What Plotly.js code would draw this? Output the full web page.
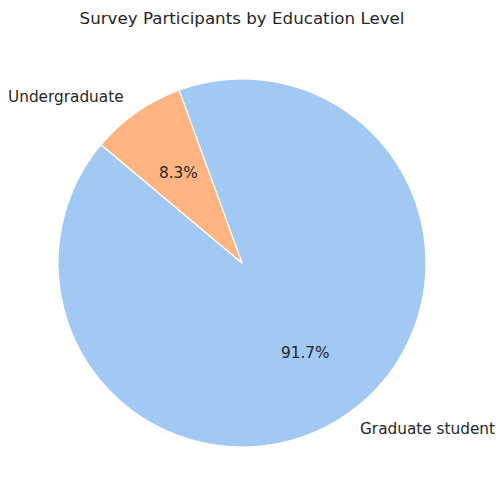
<!DOCTYPE html>
<html>
<head>
<meta charset="utf-8">
<script src="https://cdn.plot.ly/plotly-3.0.1.min.js"></script>
<style>html,body{margin:0;padding:0;background:#fff;}#chart{width:504px;height:504px;}</style>
</head>
<body>
<div id="chart"></div>
<script>
// Data
const labels = ["Graduate student", "Undergraduate"];
const values = [11, 1];
const colors = ["#a1c9f4", "#ffb482"];
const titleText = "Survey Participants by Education Level";

// Geometry (pixels)
const W = 504, H = 504;
const cx = 242, cy = 263, R = 184;
const startAngle = 140; // matplotlib-style, degrees CCW from east
const textColor = "#262626";
const fontFam = "DejaVu Sans, sans-serif";
const fs = 15.3;

const total = values.reduce((a, b) => a + b, 0);
const annotations = [];
let theta = startAngle;
values.forEach((v, i) => {
  const span = v / total * 360;
  const mid = (theta + span / 2) * Math.PI / 180;
  theta += span;
  const lx = cx + 1.1 * R * Math.cos(mid);
  const ly = cy - 1.1 * R * Math.sin(mid);
  annotations.push({
    x: lx / W, y: 1 - ly / H, xref: "paper", yref: "paper",
    text: labels[i], showarrow: false,
    xanchor: Math.cos(mid) < 0 ? "right" : "left", yanchor: "middle",
    font: {family: fontFam, size: fs, color: textColor}
  });
  const px = cx + 0.6 * R * Math.cos(mid);
  const py = cy - 0.6 * R * Math.sin(mid);
  annotations.push({
    x: px / W, y: 1 - py / H, xref: "paper", yref: "paper",
    text: (v / total * 100).toFixed(1) + "%", showarrow: false,
    xanchor: "center", yanchor: "middle",
    font: {family: fontFam, size: fs, color: textColor}
  });
});

// Plotly (counterclockwise): first slice lies clockwise of the rotation line
const firstEnd = (startAngle + values[0] / total * 360) % 360;
const rot = 90 - firstEnd;

const trace = {
  type: "pie",
  labels: labels,
  values: values,
  sort: false,
  direction: "counterclockwise",
  rotation: rot,
  marker: {colors: colors, line: {color: "#ffffff", width: 1.2}},
  textinfo: "none",
  hoverinfo: "label+percent",
  showlegend: false,
  domain: {x: [(cx - R) / W, (cx + R) / W], y: [1 - (cy + R) / H, 1 - (cy - R) / H]}
};

const layout = {
  width: W, height: H,
  margin: {l: 0, r: 0, t: 0, b: 0},
  paper_bgcolor: "#ffffff",
  showlegend: false,
  title: {
    text: titleText, x: cx / W, xref: "paper", xanchor: "center",
    y: 1 - 18 / H, yref: "paper", yanchor: "middle",
    font: {family: fontFam, size: 16.7, color: textColor}
  },
  annotations: annotations
};

Plotly.newPlot("chart", [trace], layout, {staticPlot: true, displayModeBar: false});
</script>
</body>
</html>
